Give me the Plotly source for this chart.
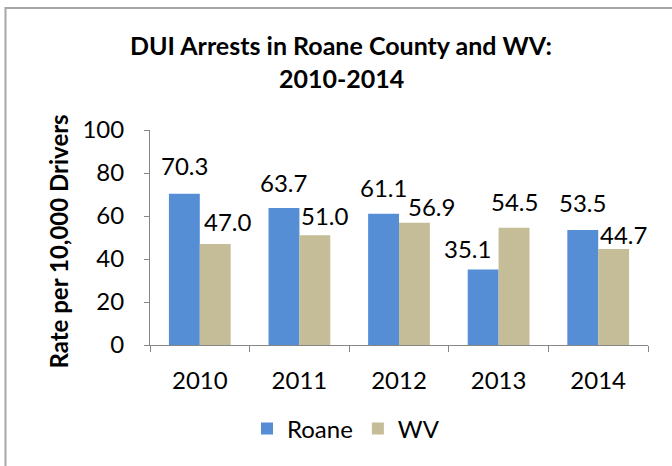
import plotly.graph_objects as go

years = ["2010", "2011", "2012", "2013", "2014"]
roane = [70.3, 63.7, 61.1, 35.1, 53.5]
wv = [47.0, 51.0, 56.9, 54.5, 44.7]

# label styling offsets (px): (dx from bar centre, dy of label centre above bar top)
roane_lbl_off = [(0, 28), (0, 26), (0, 26), (-16, 21), (0, 27)]
wv_lbl_off = [(13, 22), (10, 20), (17, 16), (0, 26), (10, 14)]

BLUE = "#558ED5"
TAN = "#C4BD97"
FONT = "Lato"

L, R, T, B = 150, 24, 130, 121
W, H = 672, 466
PW, PH = W - L - R, H - T - B


def px_x(x):
    return (x - L) / PW


def px_y(y):
    return (H - B - y) / PH


fig = go.Figure()
fig.add_trace(go.Bar(name="Roane", x=years, y=roane, marker=dict(color=BLUE, line=dict(width=0))))
fig.add_trace(go.Bar(name="WV", x=years, y=wv, marker=dict(color=TAN, line=dict(width=0))))

bargap = 0.38
bar_w_px = PW / len(years) * (1 - bargap) / 2
annotations = []
for series, offs, sign in ((roane, roane_lbl_off, -1), (wv, wv_lbl_off, 1)):
    for i, (v, (dx, dy)) in enumerate(zip(series, offs)):
        annotations.append(dict(
            x=i, y=v, xref="x", yref="y", text=f"{v:.1f}", showarrow=False,
            xanchor="center", yanchor="middle",
            xshift=sign * bar_w_px / 2 + dx, yshift=dy,
            font=dict(family=FONT, size=24, color="black"),
        ))

annotations += [
    dict(text="<b>DUI Arrests in Roane County and WV:</b>", x=px_x(341), y=px_y(45),
         xref="paper", yref="paper", showarrow=False, xanchor="center", yanchor="middle",
         font=dict(family=FONT, size=25, color="black")),
    dict(text="<b>2010-2014</b>", x=px_x(341), y=px_y(78),
         xref="paper", yref="paper", showarrow=False, xanchor="center", yanchor="middle",
         font=dict(family=FONT, size=25, color="black")),
    dict(text="<b>Rate per 10,000 Drivers</b>", x=px_x(58), y=px_y(241.5), textangle=-90,
         xref="paper", yref="paper", showarrow=False, xanchor="center", yanchor="middle",
         font=dict(family=FONT, size=24, color="black")),
]

fig.update_layout(
    width=W, height=H,
    margin=dict(l=L, r=R, t=T, b=B, autoexpand=False),
    paper_bgcolor="white", plot_bgcolor="white",
    barmode="group", bargap=bargap, bargroupgap=0,
    font=dict(family=FONT, size=24, color="black"),
    showlegend=True,
    legend=dict(orientation="h", x=px_x(346), xanchor="center", y=px_y(429), yanchor="middle",
                font=dict(family=FONT, size=24, color="black"), bgcolor="rgba(0,0,0,0)"),
    annotations=annotations,
    shapes=[dict(type="rect", xref="paper", yref="paper",
                 x0=px_x(5.5), x1=px_x(690), y0=px_y(490), y1=px_y(8),
                 line=dict(color="#A6A6A6", width=2), fillcolor="rgba(0,0,0,0)", layer="below")],
)
fig.update_yaxes(range=[0, 100], dtick=20, ticks="outside", ticklen=5, tickcolor="#868686",
                 showline=True, linecolor="#868686", linewidth=1, showgrid=False, zeroline=False,
                 automargin=False,
                 ticklabelstandoff=15, tickfont=dict(family=FONT, size=24, color="black"))
fig.update_xaxes(type="category", range=[-0.5, len(years) - 0.5], ticks="outside",
                 tickson="boundaries", ticklen=6, tickcolor="#868686",
                 showline=True, linecolor="#868686", linewidth=1, showgrid=False, automargin=False,
                 tickangle=0,
                 ticklabelstandoff=14, tickfont=dict(family=FONT, size=24, color="black"))

fig.write_html("out.html", config={"displayModeBar": False},
               post_script="document.body.style.margin='0';")
